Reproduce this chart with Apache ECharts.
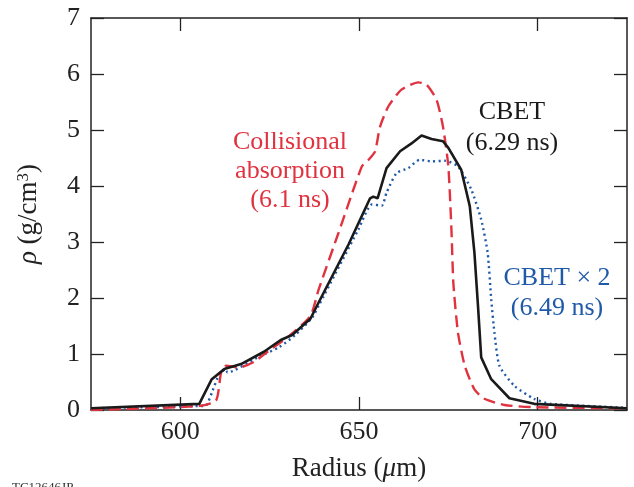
<!DOCTYPE html>
<html>
<head>
<meta charset="utf-8">
<script src="https://cdn.jsdelivr.net/npm/echarts@6/dist/echarts.min.js"></script>
<style>html,body{margin:0;padding:0;background:#fff}#c{width:634px;height:487px}</style>
</head>
<body>
<div id="c"></div>
<script>
// CBET (6.29 ns) — solid black
const cbetR   = [575, 605.3, 608.8, 612.3, 617.0, 623.4, 628.1, 631.3, 636.4, 638.7, 647.1, 653.1, 654.0, 655.2, 657.7, 661.5, 664.7, 667.5, 670.3, 673.5, 675.0, 678.6, 681.0, 682.3, 683.3, 684.2, 687.0, 692.1, 699.0, 725];
const cbetRho = [0.03, 0.11, 0.55, 0.73, 0.82, 1.04, 1.25, 1.34, 1.63, 1.92, 2.96, 3.78, 3.81, 3.78, 4.32, 4.62, 4.76, 4.90, 4.84, 4.80, 4.68, 4.29, 3.64, 2.81, 1.86, 0.94, 0.55, 0.21, 0.11, 0.03];
// Collisional absorption (6.1 ns) — dashed red
const collR   = [575, 605.0, 610.0, 611.4, 612.8, 616.5, 620.6, 624.8, 630.4, 636.4, 638.7, 644.3, 650.8, 652.7, 654.5, 655.9, 658.2, 661.9, 666.6, 668.9, 671.7, 673.5, 675.0, 675.9, 676.4, 677.7, 679.6, 682.3, 685.1, 690.7, 699.0, 725];
const collRho = [0.0, 0.07, 0.17, 0.67, 0.79, 0.76, 0.86, 1.06, 1.32, 1.68, 2.15, 3.17, 4.35, 4.47, 4.62, 5.06, 5.42, 5.72, 5.85, 5.81, 5.54, 5.06, 4.35, 3.17, 2.27, 1.38, 0.79, 0.37, 0.20, 0.09, 0.05, 0.03];
// CBET x 2 (6.49 ns) — dotted blue
const cbet2R   = [575, 605.3, 607.2, 609.0, 610.9, 612.8, 613.2, 621.6, 627.6, 632.2, 636.9, 638.7, 649.8, 653.6, 656.4, 657.7, 660.5, 663.8, 667.0, 670.3, 674.0, 677.7, 681.4, 684.2, 686.0, 687.0, 687.9, 689.3, 693.5, 699.0, 703.7, 725];
const cbet2Rho = [0.03, 0.07, 0.08, 0.34, 0.64, 0.73, 0.67, 0.94, 1.12, 1.34, 1.65, 1.86, 3.22, 3.67, 3.65, 3.88, 4.23, 4.32, 4.47, 4.44, 4.45, 4.35, 3.94, 3.40, 2.81, 1.98, 1.38, 0.79, 0.43, 0.20, 0.11, 0.04];

const xTicks = [600, 650, 700];
const yTicks = [0, 1, 2, 3, 4, 5, 6, 7];

const zip = (a, b) => a.map((v, i) => [v, b[i]]);
const serif = '"Liberation Serif", "DejaVu Serif", serif';
const axisColor = '#222';
const RED = '#e0323f', BLUE = '#1f5aa8', BLACK = '#1a1a1a';

const chart = echarts.init(document.getElementById('c'), null, {renderer: 'canvas'});
const tickCommon = {show: true, inside: true, length: 13, lineStyle: {color: axisColor, width: 1.3}};
chart.setOption({
  animation: false,
  backgroundColor: '#fff',
  grid: {left: 91, top: 18, right: 7, bottom: 76, containLabel: false},
  xAxis: [{
    type: 'value', min: 575, max: 725, interval: 25,
    name: '{n|Radius (}{i|μ}{n|m)}', nameLocation: 'middle', nameGap: 45,
    nameTextStyle: {rich: {n: {fontFamily: serif, fontSize: 27, color: axisColor}, i: {fontFamily: serif, fontSize: 27, fontStyle: 'italic', color: axisColor}}},
    axisLine: {show: true, lineStyle: {color: axisColor, width: 1.5}},
    axisTick: Object.assign({}, tickCommon, {customValues: xTicks}),
    axisLabel: {customValues: xTicks, fontFamily: serif, fontSize: 26, color: axisColor, margin: 9},
    splitLine: {show: false}
  }, {
    type: 'value', min: 575, max: 725, position: 'top',
    axisLine: {show: true, onZero: false, lineStyle: {color: axisColor, width: 1.5}},
    axisTick: Object.assign({}, tickCommon, {customValues: xTicks}),
    axisLabel: {show: false}, splitLine: {show: false}
  }],
  yAxis: [{
    type: 'value', min: 0, max: 7, interval: 1,
    name: '{i|ρ}{n| (g/cm}{s|3}{n|)}', nameLocation: 'middle', nameGap: 49, nameRotate: 90,
    nameTextStyle: {rich: {
      n: {fontFamily: serif, fontSize: 27, color: axisColor},
      i: {fontFamily: serif, fontSize: 27, fontStyle: 'italic', color: axisColor},
      s: {fontFamily: serif, fontSize: 17, color: axisColor, verticalAlign: 'top', padding: [0, 0, 6, 0]}
    }},
    axisLine: {show: true, lineStyle: {color: axisColor, width: 1.5}},
    axisTick: Object.assign({}, tickCommon, {customValues: yTicks}),
    axisLabel: {customValues: yTicks, fontFamily: serif, fontSize: 26, color: axisColor, margin: 11},
    splitLine: {show: false}
  }, {
    type: 'value', min: 0, max: 7, interval: 1, position: 'right',
    axisLine: {show: true, onZero: false, lineStyle: {color: axisColor, width: 1.5}},
    axisTick: tickCommon,
    axisLabel: {show: false}, splitLine: {show: false}
  }],
  series: [
    {type: 'line', name: 'Collisional absorption', data: zip(collR, collRho), showSymbol: false, smooth: 0.2,
     lineStyle: {color: RED, width: 2.4, type: [12, 6]}, z: 3},
    {type: 'line', name: 'CBET x 2', data: zip(cbet2R, cbet2Rho), showSymbol: false, smooth: 0.2,
     lineStyle: {color: BLUE, width: 2.4, type: [2, 3.5]}, z: 2},
    {type: 'line', name: 'CBET', data: zip(cbetR, cbetRho), showSymbol: false,
     lineStyle: {color: BLACK, width: 2.6}, z: 4}
  ],
  graphic: [
    {type: 'text', style: {text: 'Collisional\nabsorption\n(6.1 ns)', fill: RED, font: '26px ' + serif, align: 'center', verticalAlign: 'middle', lineHeight: 29}, position: [290, 171]},
    {type: 'text', style: {text: 'CBET\n(6.29 ns)', fill: BLACK, font: '26px ' + serif, align: 'center', verticalAlign: 'middle', lineHeight: 31}, position: [512, 128]},
    {type: 'text', style: {text: 'CBET × 2\n(6.49 ns)', fill: BLUE, font: '26px ' + serif, align: 'center', verticalAlign: 'middle', lineHeight: 30}, position: [557, 293]},
    {type: 'text', style: {text: 'TC12646JP', fill: '#333', font: '13px ' + serif, verticalAlign: 'top'}, position: [12, 481]}
  ]
});
</script>
</body>
</html>
